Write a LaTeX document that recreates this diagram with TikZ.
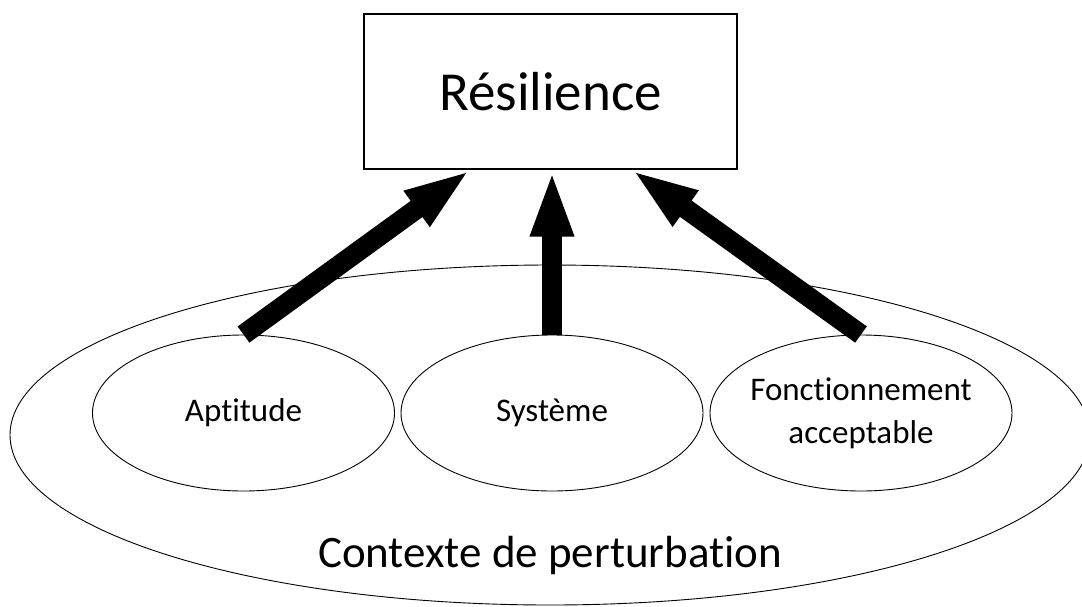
\documentclass[tikz,border=0pt]{standalone}
\usepackage{fontspec}
\setmainfont{Carlito}[Ligatures=NoCommon]
\usepackage{tikz}
\usetikzlibrary{arrows.meta,positioning,calc,shapes.geometric}
\tikzset{
  resbox/.style ={draw=black,line width=1.2pt,minimum width=373pt,minimum height=155pt,
                  inner sep=0pt,font=\fontsize{55}{66}\selectfont},
  sub/.style    ={draw=black,ellipse,line width=0.9pt,minimum width=302pt,minimum height=156pt,
                  inner sep=0pt,align=center,font=\fontsize{33}{43}\selectfont},
  subtxt/.style ={align=center,inner sep=0pt,font=\fontsize{33}{43}\selectfont},
  ctxell/.style ={draw=black,ellipse,line width=0.9pt,minimum width=1080pt,minimum height=340pt,
                  inner sep=0pt},
  lbl/.style    ={inner sep=0pt,font=\fontsize{45}{54}\selectfont},
  push/.style   ={-{Triangle[length=67pt,width=39pt]},line width=20pt,draw=black},
}
\begin{document}
\begin{tikzpicture}[x=1pt,y=1pt]
\useasboundingbox (0,0) rectangle (1082,-606);

% outer context first, so everything else sits on top of it
\node[ctxell] (ctx) at (550,-435) {};
\node[lbl] (ctxL) at (550,-555) {Contexte de perturbation};

\node[resbox] (res) at (550.5,-91.5) {Résilience};

\node[sub] (apt)  at (243.5,-413) {Aptitude};
\node[sub] (sys)  at (552,-413)   {Système};
\node[sub] (fonc) at (861,-413)   {};
\node[subtxt] (foncL) at (fonc.center) {Fonctionnement\\acceptable};

\draw[push] (apt.north)  -- ($(res.south west)!0.287!(res.south east)$);
\draw[push] (sys.north)  -- (sys.north |- res.south);
\draw[push] (fonc.north) -- ($(res.south west)!0.716!(res.south east)$);
\end{tikzpicture}
\end{document}
